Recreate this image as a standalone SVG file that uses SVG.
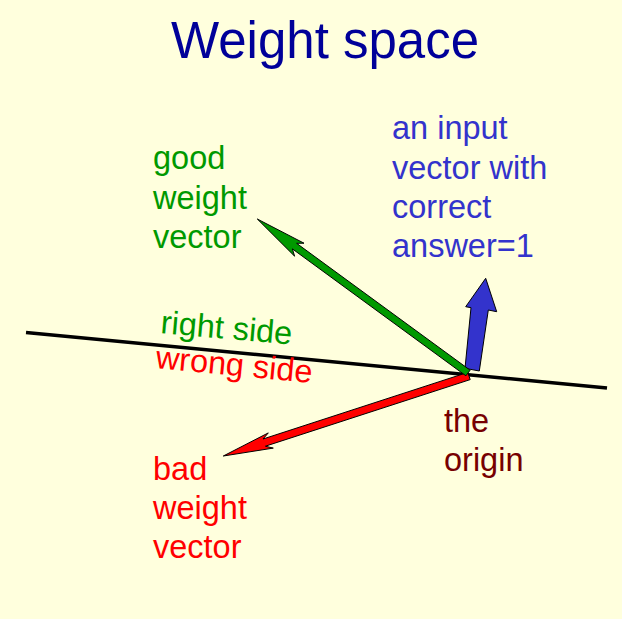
<svg xmlns="http://www.w3.org/2000/svg" width="622" height="619" viewBox="0 0 622 619">
<style>
text{font-family:"Liberation Sans",Arial,sans-serif;font-size:32.5px}
.title{font-size:51px;fill:#000099}
.g{fill:#009900}
.b{fill:#3333cc}
.r{fill:#ff0000}
.o{fill:#770000}
.arr{stroke:#000;stroke-width:1;stroke-linejoin:miter}
</style>
<rect width="622" height="619" fill="#ffffdd"/>
<g id="title"><text class="title" x="171" y="57.5">Weight space</text></g>
<g id="connectors">
<line x1="26" y1="332.5" x2="607" y2="388" stroke="#000" stroke-width="3.6"/>
<polygon id="input-vector" class="arr" fill="#3333cc" points="485.7,278.3 496.7,311.7 488.3,310 479.3,371 465,368.3 471,307.7 465.7,306.7"/>
<polygon id="bad-vector" class="arr" fill="#ff0000" points="223.3,456 268.3,432.9 263,439 467.8,372.4 470.2,379.6 265.4,446.2 273.3,448.1"/>
<polygon id="good-vector" class="arr" fill="#009900" points="257.3,219 304,243.2 296.6,243.3 470.1,370.2 465.9,375.8 292.4,248.9 294.6,256.2"/>
</g>
<g id="good-label"><text class="g"><tspan x="153" y="169">good</tspan><tspan x="153" y="208.5">weight</tspan><tspan x="153" y="248">vector</tspan></text></g>
<g id="input-label"><text class="b"><tspan x="392" y="139.3">an input</tspan><tspan x="392" y="178.6">vector with</tspan><tspan x="392" y="218">correct</tspan><tspan x="392" y="257.3">answer=1</tspan></text></g>
<g id="right-side"><text class="g" transform="translate(160,333) rotate(5)">right side</text></g>
<g id="wrong-side"><text class="r" transform="translate(155,368) rotate(5.5)">wrong side</text></g>
<g id="origin-label"><text class="o"><tspan x="444" y="431.5">the</tspan><tspan x="444" y="470.5">origin</tspan></text></g>
<g id="bad-label"><text class="r"><tspan x="153" y="480">bad</tspan><tspan x="153" y="519">weight</tspan><tspan x="153" y="558">vector</tspan></text></g>
</svg>
